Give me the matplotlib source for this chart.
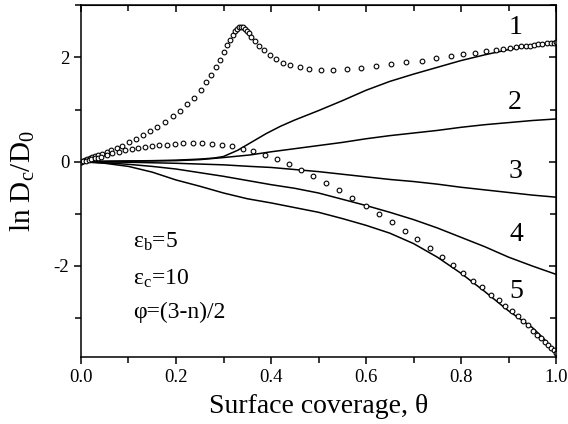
import matplotlib
matplotlib.use('Agg')

import matplotlib.pyplot as plt
from matplotlib.ticker import MultipleLocator

# circles: upper branch (peak near 0.34) and lower branch
x_up = [0.0, 0.004, 0.008, 0.013, 0.018, 0.024, 0.030, 0.036, 0.044, 0.054,
        0.064, 0.075, 0.087, 0.101, 0.115, 0.130, 0.145, 0.161, 0.177, 0.194,
        0.209, 0.224, 0.238, 0.252, 0.263, 0.274, 0.284, 0.293, 0.300, 0.307,
        0.313, 0.319, 0.324, 0.329, 0.333, 0.337, 0.341, 0.345, 0.349, 0.353,
        0.358, 0.366, 0.375, 0.385, 0.397, 0.410, 0.425, 0.441, 0.460, 0.481,
        0.505, 0.531, 0.559, 0.589, 0.621, 0.653, 0.685, 0.717, 0.748, 0.778,
        0.804, 0.830, 0.853, 0.874, 0.889, 0.903, 0.915, 0.926, 0.936, 0.945,
        0.954, 0.963, 0.971, 0.980, 0.989, 0.995, 1.0]
y_up = [0.0, 0.02, 0.04, 0.055, 0.07, 0.09, 0.11, 0.13, 0.155, 0.19,
        0.22, 0.26, 0.31, 0.37, 0.43, 0.51, 0.58, 0.67, 0.76, 0.87,
        0.98, 1.10, 1.23, 1.38, 1.52, 1.67, 1.82, 1.96, 2.10, 2.23,
        2.34, 2.43, 2.50, 2.55, 2.58, 2.59, 2.58, 2.55, 2.51, 2.46,
        2.40, 2.31, 2.22, 2.14, 2.05, 1.97, 1.90, 1.85, 1.81, 1.78,
        1.765, 1.765, 1.775, 1.80, 1.83, 1.87, 1.905, 1.94, 1.98, 2.02,
        2.06, 2.09, 2.12, 2.145, 2.165, 2.18, 2.195, 2.21, 2.22, 2.225,
        2.24, 2.25, 2.26, 2.275, 2.28, 2.285, 2.29]

x_lo = [0.0, 0.005, 0.010, 0.016, 0.022, 0.029, 0.036, 0.043, 0.054, 0.066,
        0.079, 0.093, 0.107, 0.121, 0.135, 0.149, 0.164, 0.180, 0.197, 0.215,
        0.235, 0.255, 0.276, 0.296, 0.318, 0.340, 0.363, 0.387, 0.412, 0.437,
        0.463, 0.489, 0.516, 0.543, 0.571, 0.599, 0.627, 0.655, 0.682, 0.708,
        0.735, 0.759, 0.783, 0.805, 0.825, 0.844, 0.863, 0.879, 0.893, 0.907,
        0.920, 0.931, 0.942, 0.952, 0.961, 0.969, 0.976, 0.983, 0.989, 0.995, 1.0]
y_lo = [0.0, 0.01, 0.02, 0.035, 0.05, 0.065, 0.08, 0.10, 0.13, 0.17,
        0.195, 0.22, 0.24, 0.26, 0.28, 0.30, 0.32, 0.33, 0.345, 0.35,
        0.355, 0.35, 0.345, 0.33, 0.30, 0.25, 0.20, 0.13, 0.05, -0.045,
        -0.15, -0.27, -0.40, -0.54, -0.69, -0.84, -1.00, -1.16, -1.33, -1.49,
        -1.66, -1.82, -1.98, -2.13, -2.28, -2.41, -2.55, -2.65, -2.77, -2.87,
        -2.96, -3.05, -3.13, -3.25, -3.32, -3.39, -3.45, -3.51, -3.57, -3.62, -3.66]

# solid lines, n = 1..5
x1 = [0.0, 0.05, 0.1, 0.15, 0.2, 0.25, 0.28, 0.30, 0.33, 0.36, 0.39, 0.42, 0.45,
      0.5, 0.55, 0.6, 0.65, 0.7, 0.75, 0.8, 0.85, 0.9, 0.95, 1.0]
y1 = [0.0, 0.01, 0.015, 0.02, 0.03, 0.05, 0.07, 0.10, 0.22, 0.38, 0.54, 0.68, 0.80,
      0.98, 1.17, 1.37, 1.54, 1.68, 1.81, 1.94, 2.05, 2.15, 2.23, 2.29]

x2 = [0.0, 0.1, 0.2, 0.25, 0.3, 0.356, 0.4, 0.45, 0.5, 0.55, 0.6, 0.65, 0.7,
      0.75, 0.8, 0.85, 0.9, 0.95, 1.0]
y2 = [0.0, 0.01, 0.02, 0.04, 0.08, 0.13, 0.19, 0.25, 0.31, 0.37, 0.44, 0.50, 0.55,
      0.60, 0.66, 0.71, 0.75, 0.79, 0.82]

x3 = [0.0, 0.1, 0.2, 0.3, 0.356, 0.4, 0.45, 0.5, 0.55, 0.6, 0.65, 0.7, 0.75,
      0.8, 0.85, 0.9, 0.95, 1.0]
y3 = [0.0, -0.01, -0.03, -0.06, -0.09, -0.11, -0.15, -0.19, -0.24, -0.29, -0.34,
      -0.38, -0.43, -0.49, -0.54, -0.59, -0.64, -0.68]

x4 = [0.0, 0.05, 0.1, 0.15, 0.2, 0.25, 0.3, 0.35, 0.4, 0.45, 0.5, 0.55, 0.6,
      0.65, 0.7, 0.75, 0.8, 0.85, 0.9, 0.95, 1.0]
y4 = [0.0, -0.02, -0.05, -0.09, -0.14, -0.21, -0.28, -0.36, -0.44, -0.51, -0.60,
      -0.72, -0.84, -0.97, -1.11, -1.27, -1.45, -1.63, -1.83, -2.00, -2.16]

x5 = [0.0, 0.05, 0.1, 0.15, 0.2, 0.25, 0.3, 0.35, 0.4, 0.45, 0.5, 0.55, 0.6,
      0.65, 0.7, 0.75, 0.8, 0.85, 0.9, 0.95, 0.975, 1.0]
y5 = [0.0, -0.03, -0.09, -0.20, -0.35, -0.47, -0.60, -0.71, -0.79, -0.88, -0.97,
      -1.09, -1.22, -1.37, -1.57, -1.83, -2.14, -2.49, -2.86, -3.18, -3.40, -3.67]

curve_labels = ['1', '2', '3', '4', '5']
label_x = [0.914, 0.914, 0.914, 0.917, 0.917]
label_y = [2.58, 1.13, -0.19, -1.40, -2.49]

plt.rcParams['font.family'] = ['Liberation Serif', 'DejaVu Serif']
plt.rcParams['mathtext.fontset'] = 'custom'
plt.rcParams['mathtext.rm'] = 'Liberation Serif'
plt.rcParams['mathtext.it'] = 'Liberation Serif:italic'
plt.rcParams['axes.unicode_minus'] = False

fig = plt.figure(figsize=(5.68, 4.24), dpi=100)
ax = fig.add_axes([0.1426, 0.1587, 0.8363, 0.8288])

for xs, ys in [(x1, y1), (x2, y2), (x3, y3), (x4, y4), (x5, y5)]:
    ax.plot(xs, ys, color='black', lw=1.1)

ax.plot(x_up, y_up, 'o', ms=3.4, mfc='white', mec='black', mew=0.8)
ax.plot(x_lo, y_lo, 'o', ms=3.4, mfc='white', mec='black', mew=0.8)

for lab, lx, ly in zip(curve_labels, label_x, label_y):
    ax.text(lx, ly, lab, fontsize=20, ha='center', va='center')

ax.text(0.109, -1.65, r'ε$_\mathrm{b}$=5', fontsize=17)
ax.text(0.109, -2.35, r'ε$_\mathrm{c}$=10', fontsize=17)
ax.text(0.109, -3.0, 'φ=(3-n)/2', fontsize=17)

ax.set_xlim(0, 1.0)
ax.set_ylim(-3.74, 3.0)
ax.xaxis.set_major_locator(MultipleLocator(0.2))
ax.xaxis.set_minor_locator(MultipleLocator(0.1))
ax.yaxis.set_major_locator(MultipleLocator(2))
ax.yaxis.set_minor_locator(MultipleLocator(1))
ax.set_xticks([0, 0.2, 0.4, 0.6, 0.8, 1.0])
ax.set_xticklabels(['0.0', '0.2', '0.4', '0.6', '0.8', '1.0'])
ax.set_yticks([-2, 0, 2])
ax.set_yticklabels(['-2', '0', '2'])
ax.tick_params(which='both', direction='out', labelsize=13.5, width=1.1)
ax.tick_params(which='major', length=5)
ax.tick_params(which='minor', length=4)

# top and right axes: ticks point inward, no labels
top = ax.secondary_xaxis('top')
top.xaxis.set_major_locator(MultipleLocator(0.2))
top.xaxis.set_minor_locator(MultipleLocator(0.1))
top.tick_params(which='both', direction='in', labeltop=False, width=1.1)
top.tick_params(which='major', length=5)
top.tick_params(which='minor', length=4)
right = ax.secondary_yaxis('right')
right.yaxis.set_major_locator(MultipleLocator(2))
right.yaxis.set_minor_locator(MultipleLocator(1))
right.tick_params(which='both', direction='in', labelright=False, width=1.1)
right.tick_params(which='major', length=5)
right.tick_params(which='minor', length=4)

for sp in ax.spines.values():
    sp.set_linewidth(1.1)

ax.set_xlabel('Surface coverage, θ', fontsize=20, labelpad=6)
ax.set_ylabel(r'ln D$_\mathrm{c}$/D$_\mathrm{0}$', fontsize=21, labelpad=12)

fig.savefig('out.png', dpi=100)
